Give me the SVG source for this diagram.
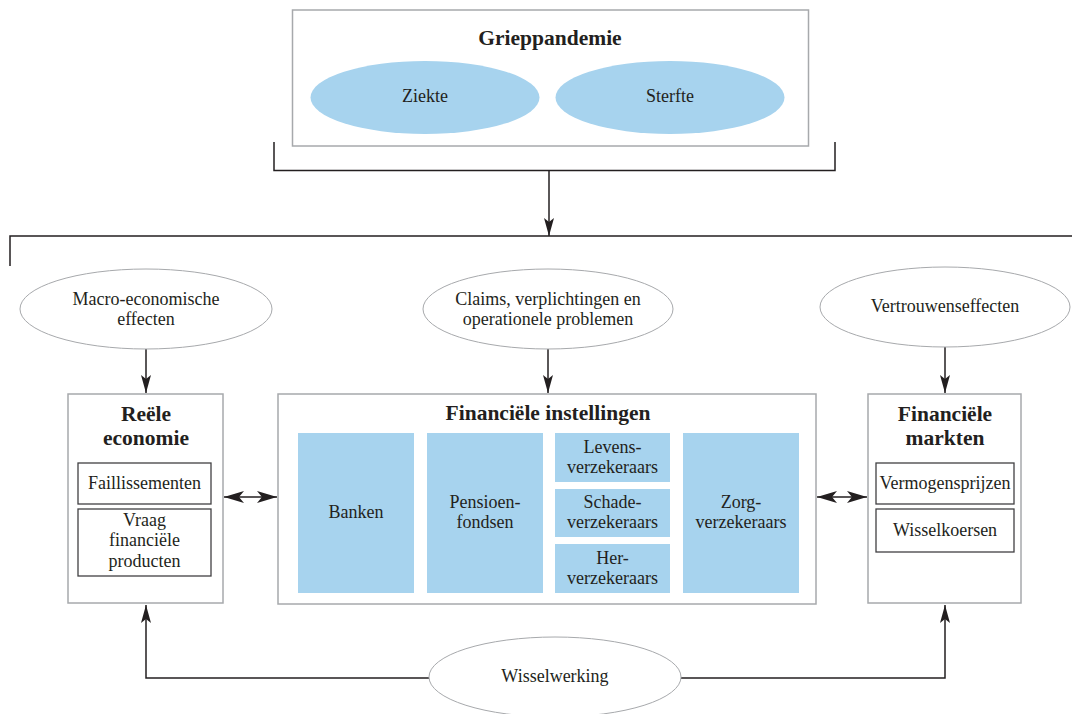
<svg xmlns="http://www.w3.org/2000/svg" width="1072" height="714" viewBox="0 0 1072 714">
<defs>
<style>
text{font-family:"Liberation Serif","DejaVu Serif",serif;fill:#231f20;text-anchor:middle}
.t{font-size:18px}
.b{font-size:21.5px;font-weight:bold}
.box{fill:#fff;stroke:#a7a9ac;stroke-width:1.5}
.ibox{fill:#fff;stroke:#414042;stroke-width:1.3}
.blue{fill:#a7d3ee}
.oval{fill:#fff;stroke:#a7a9ac;stroke-width:1}
.ln{fill:none;stroke:#231f20;stroke-width:1.5}
</style>
<marker id="ah" markerUnits="userSpaceOnUse" markerWidth="20" markerHeight="12" refX="18" refY="5" orient="auto-start-reverse">
<path d="M0,0 L18,5 L0,10 L4,5 z" fill="#231f20"/>
</marker>
<marker id="ah2" markerUnits="userSpaceOnUse" markerWidth="22" markerHeight="14" refX="20" refY="6" orient="auto-start-reverse">
<path d="M0,0 L20,6 L0,12 L5,6 z" fill="#231f20"/>
</marker>
</defs>
<rect width="1072" height="714" fill="#fff"/>

<g id="connectors">
<path class="ln" d="M274,142 V170.5 H835 V142"/>
<path class="ln" d="M549,170 V236" marker-end="url(#ah)" stroke-width="1"/>
<path class="ln" d="M10,266 V236 H1072"/>
<path class="ln" d="M146,349 V393" marker-end="url(#ah)" stroke-width="1"/>
<path class="ln" d="M548,349 V393" marker-end="url(#ah)" stroke-width="1"/>
<path class="ln" d="M945,347 V393" marker-end="url(#ah)" stroke-width="1"/>
<path class="ln" d="M224,497 H277" marker-start="url(#ah2)" marker-end="url(#ah2)" stroke-width="1"/>
<path class="ln" d="M817,497 H867" marker-start="url(#ah2)" marker-end="url(#ah2)" stroke-width="1"/>
<path class="ln" d="M429,678 H146 V605" marker-end="url(#ah)"/>
<path class="ln" d="M681,678 H945 V605" marker-end="url(#ah)"/>
</g>

<g id="grieppandemie">
<rect class="box" x="292.5" y="10" width="516" height="136"/>
<text class="b" x="550" y="45">Grieppandemie</text>
</g>
<g id="ziekte">
<ellipse class="blue" cx="425" cy="97.5" rx="114.5" ry="36.5"/>
<text class="t" x="425" y="102">Ziekte</text>
</g>
<g id="sterfte">
<ellipse class="blue" cx="670" cy="97.5" rx="114.5" ry="36.5"/>
<text class="t" x="670" y="102">Sterfte</text>
</g>

<g id="macro">
<ellipse class="oval" cx="146" cy="309" rx="126" ry="40"/>
<text class="t" x="146" y="305">Macro-economische</text>
<text class="t" x="146" y="325">effecten</text>
</g>
<g id="claims">
<ellipse class="oval" cx="548" cy="309" rx="125" ry="40"/>
<text class="t" x="548" y="305">Claims, verplichtingen en</text>
<text class="t" x="548" y="325">operationele problemen</text>
</g>
<g id="vertrouwen">
<ellipse class="oval" cx="945" cy="307" rx="125" ry="40"/>
<text class="t" x="945" y="312">Vertrouwenseffecten</text>
</g>

<g id="reele">
<rect class="box" x="68" y="394" width="155" height="209"/>
<text class="b" x="146" y="421">Reële</text>
<text class="b" x="146" y="445">economie</text>
<rect class="ibox" x="78" y="463" width="133" height="41"/>
<text class="t" x="144.5" y="489">Faillissementen</text>
<rect class="ibox" x="78" y="509" width="133" height="67"/>
<text class="t" x="144.5" y="526">Vraag</text>
<text class="t" x="144.5" y="546">financiële</text>
<text class="t" x="144.5" y="567">producten</text>
</g>

<g id="instellingen">
<rect class="box" x="278" y="394" width="538" height="210"/>
<text class="b" x="548" y="420">Financiële instellingen</text>
</g>
<g id="banken">
<rect class="blue" x="298" y="433" width="116" height="160"/>
<text class="t" x="356" y="518">Banken</text>
</g>
<g id="pensioen">
<rect class="blue" x="427" y="433" width="116" height="160"/>
<text class="t" x="485" y="508">Pensioen-</text>
<text class="t" x="485" y="528">fondsen</text>
</g>
<g id="levens">
<rect class="blue" x="555" y="433" width="115" height="49"/>
<text class="t" x="612.5" y="453">Levens-</text>
<text class="t" x="612.5" y="473">verzekeraars</text>
</g>
<g id="schade">
<rect class="blue" x="555" y="489" width="115" height="48"/>
<text class="t" x="612.5" y="508">Schade-</text>
<text class="t" x="612.5" y="528">verzekeraars</text>
</g>
<g id="her">
<rect class="blue" x="555" y="544" width="115" height="49"/>
<text class="t" x="612.5" y="564">Her-</text>
<text class="t" x="612.5" y="584">verzekeraars</text>
</g>
<g id="zorg">
<rect class="blue" x="683" y="433" width="116" height="160"/>
<text class="t" x="741" y="508">Zorg-</text>
<text class="t" x="741" y="528">verzekeraars</text>
</g>

<g id="markten">
<rect class="box" x="868" y="394" width="153" height="209"/>
<text class="b" x="945" y="421">Financiële</text>
<text class="b" x="945" y="445">markten</text>
<rect class="ibox" x="876" y="463" width="138" height="41"/>
<text class="t" x="945" y="489">Vermogensprijzen</text>
<rect class="ibox" x="876" y="509" width="138" height="43"/>
<text class="t" x="945" y="536">Wisselkoersen</text>
</g>

<g id="wisselwerking">
<ellipse class="oval" cx="555" cy="677" rx="126" ry="40"/>
<text class="t" x="555" y="682">Wisselwerking</text>
</g>
</svg>
